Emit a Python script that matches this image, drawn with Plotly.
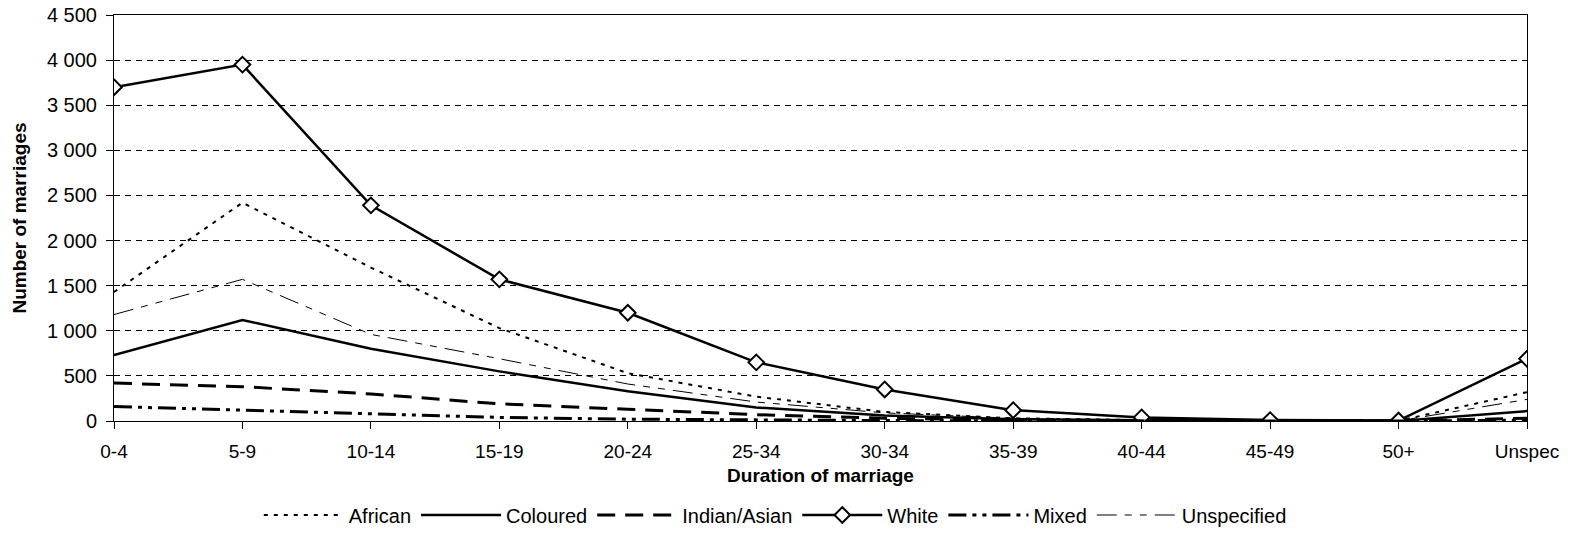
import plotly.graph_objects as go

categories = ["0-4", "5-9", "10-14", "15-19", "20-24", "25-34", "30-34", "35-39", "40-44", "45-49", "50+", "Unspec"]
african = [1430, 2420, 1700, 1030, 530, 270, 100, 30, 10, 5, 2, 320]
coloured = [730, 1120, 800, 550, 330, 150, 60, 20, 8, 3, 1, 110]
indian_asian = [420, 380, 300, 190, 130, 70, 30, 10, 4, 2, 1, 30]
white = [3700, 3950, 2390, 1570, 1200, 650, 350, 120, 40, 10, 5, 690]
mixed = [160, 120, 80, 40, 20, 10, 5, 2, 1, 0, 0, 10]
unspecified = [1180, 1570, 960, 690, 410, 210, 90, 30, 10, 3, 1, 240]
y_ticks = [0, 500, 1000, 1500, 2000, 2500, 3000, 3500, 4000, 4500]

fig = go.Figure()
fig.add_trace(go.Scatter(x=categories, y=african, name="African", mode="lines",
                         line=dict(color="black", width=2, dash="4px,6px")))
fig.add_trace(go.Scatter(x=categories, y=coloured, name="Coloured", mode="lines",
                         line=dict(color="black", width=2.5)))
fig.add_trace(go.Scatter(x=categories, y=indian_asian, name="Indian/Asian", mode="lines",
                         line=dict(color="black", width=3, dash="18px,10px")))
fig.add_trace(go.Scatter(x=categories, y=white, name="White", mode="lines+markers",
                         line=dict(color="black", width=2.5),
                         marker=dict(symbol="diamond", size=12, color="white",
                                     line=dict(color="black", width=2))))
fig.add_trace(go.Scatter(x=categories, y=mixed, name="Mixed", mode="lines",
                         line=dict(color="black", width=3, dash="18px,6px,4px,6px,4px,6px")))
fig.add_trace(go.Scatter(x=categories, y=unspecified, name="Unspecified", mode="lines",
                         line=dict(color="black", width=1, dash="20px,8px,7px,8px,7px,8px")))

font = "Liberation Sans, Arial, sans-serif"
fig.update_layout(
    width=1572, height=533,
    margin=dict(l=114, r=45, t=15, b=112, autoexpand=False),
    paper_bgcolor="white", plot_bgcolor="white",
    separators=". ",
    font=dict(family=font, size=20, color="black"),
    showlegend=True,
    legend=dict(orientation="h", x=0.468, xanchor="center", y=-0.2315, yanchor="middle",
                font=dict(size=20), traceorder="normal", itemwidth=80),
    xaxis=dict(
        type="category", range=[0, 11], automargin=False,
        showline=True, linecolor="black", linewidth=1, mirror=True,
        ticks="outside", ticklen=7, tickcolor="black", ticklabelstandoff=6,
        showgrid=False, zeroline=False,
        title=dict(text="<b>Duration of marriage</b>", font=dict(size=19), standoff=7),
        tickfont=dict(size=19),
    ),
    yaxis=dict(
        range=[0, 4500], tickvals=y_ticks, tickformat=",d", automargin=False,
        showline=True, linecolor="black", linewidth=1, mirror=True,
        ticks="outside", ticklen=7, tickcolor="black", ticklabelstandoff=5,
        showgrid=True, gridcolor="black", gridwidth=1, griddash="6px,5px",
        zeroline=False,
        title=dict(text="<b>Number of marriages</b>", font=dict(size=19), standoff=15),
        tickfont=dict(size=20),
    ),
)

fig.write_html("out.html", config={"displayModeBar": False},
               post_script="document.body.style.margin='0';")
